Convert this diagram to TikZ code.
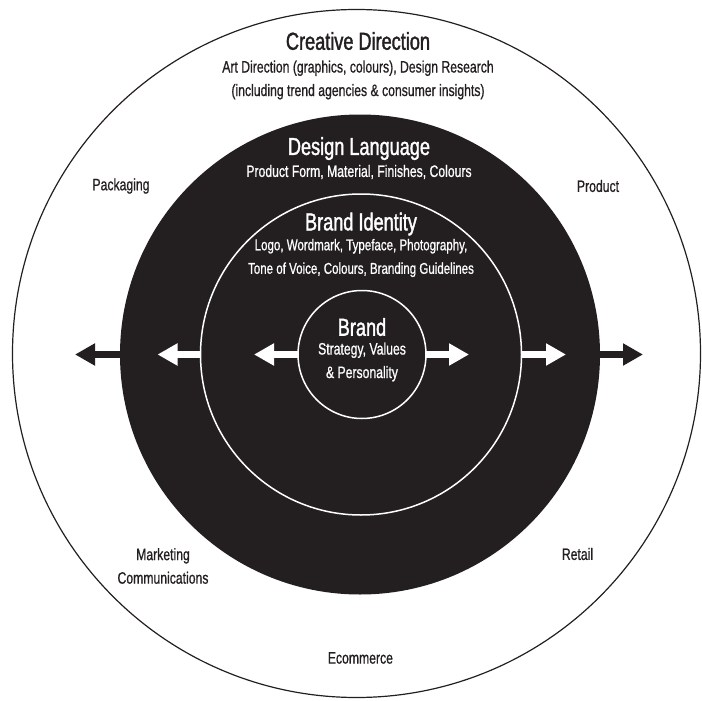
\documentclass[tikz,border=0pt]{standalone}
\usepackage{fontspec}
\setmainfont{Liberation Sans}[FakeStretch=0.74, FakeBold=0.8]
\newfontfamily\headfamily{Liberation Sans}[FakeStretch=0.74, FakeBold=1.5]
\usetikzlibrary{arrows.meta,positioning}
\usepackage{xcolor}
\definecolor{inkColor}{RGB}{35,31,32}
\newcommand{\headfont}{\headfamily\fontsize{24.5}{27}\selectfont}
\newcommand{\labelfont}{\fontsize{16.5}{23.5}\selectfont}
\newcommand{\labelsmallfont}{\fontsize{15.6}{23.5}\selectfont}

\begin{document}
\begin{tikzpicture}[x=1pt, y=-1pt,
    ring/.style={circle, inner sep=0pt, outer sep=0pt},
    head/.style={align=center, font=\headfont, inner sep=0pt},
    txt/.style={align=center, font=\labelfont, inner sep=0pt},
    spoke/.style={line width=7pt, -{Triangle[length=20pt, width=21pt]}}
  ]
  \useasboundingbox (0,0) rectangle (702,701);

  % rings, outside in
  \node[ring, draw=inkColor, line width=1.2pt, minimum size=688pt] (world) at (356.5,353.5) {};
  \node[ring, fill=inkColor, minimum size=480pt] (language) at (360,354.5) {};
  \node[ring, draw=white, line width=1.5pt, minimum size=321pt] (identity) at (361,354.5) {};
  \node[ring, draw=white, line width=1.5pt, minimum size=128pt] (brand) at (362,354.5) {};

  % arrow ends
  \coordinate (brandL) at (254,354.5);
  \coordinate (brandR) at (469,354.5);
  \coordinate (identityL) at (157.5,354.5);
  \coordinate (identityR) at (566,354.5);
  \coordinate (languageL) at (75,354.5);
  \coordinate (languageR) at (643,354.5);

  \draw[spoke, white] (brand.west) -- (brandL);
  \draw[spoke, white] (brand.east) -- (brandR);
  \draw[spoke, white] (identity.west) -- (identityL);
  \draw[spoke, white] (identity.east) -- (identityR);
  \draw[spoke, inkColor] (language.west) -- (languageL);
  \draw[spoke, inkColor] (language.east) -- (languageR);

  % texts
  \node[head, text=inkColor] (creativeHead) at (358,41) {Creative Direction};
  \node[txt, text=inkColor] (creativeSub) at (358,80) {Art Direction (graphics, colours), Design Research \\ (including trend agencies \& consumer insights)};
  \node[head, text=white] (languageHead) at (359,148.6) {Design Language};
  \node[txt, text=white] (languageSub) at (359,172) {Product Form, Material, Finishes, Colours};
  \node[head, text=white] (identityHead) at (361,224) {Brand Identity};
  \node[txt, font=\labelsmallfont, text=white] (identitySub) at (361,258) {Logo, Wordmark, Typeface, Photography, \\ Tone of Voice, Colours, Branding Guidelines};
  \node[head, text=white] (brandHead) at (362,327) {Brand};
  \node[txt, text=white] (brandSub) at (362,362) {Strategy, Values \\ \& Personality};

  \node[txt, text=inkColor] (packaging) at (121,186) {Packaging};
  \node[txt, text=inkColor] (product) at (598,186) {Product};
  \node[txt, text=inkColor] (marketing) at (163,566) {Marketing \\ Communications};
  \node[txt, text=inkColor] (retail) at (577.5,554) {Retail};
  \node[txt, text=inkColor] (ecommerce) at (360.4,658) {Ecommerce};
\end{tikzpicture}
\end{document}
